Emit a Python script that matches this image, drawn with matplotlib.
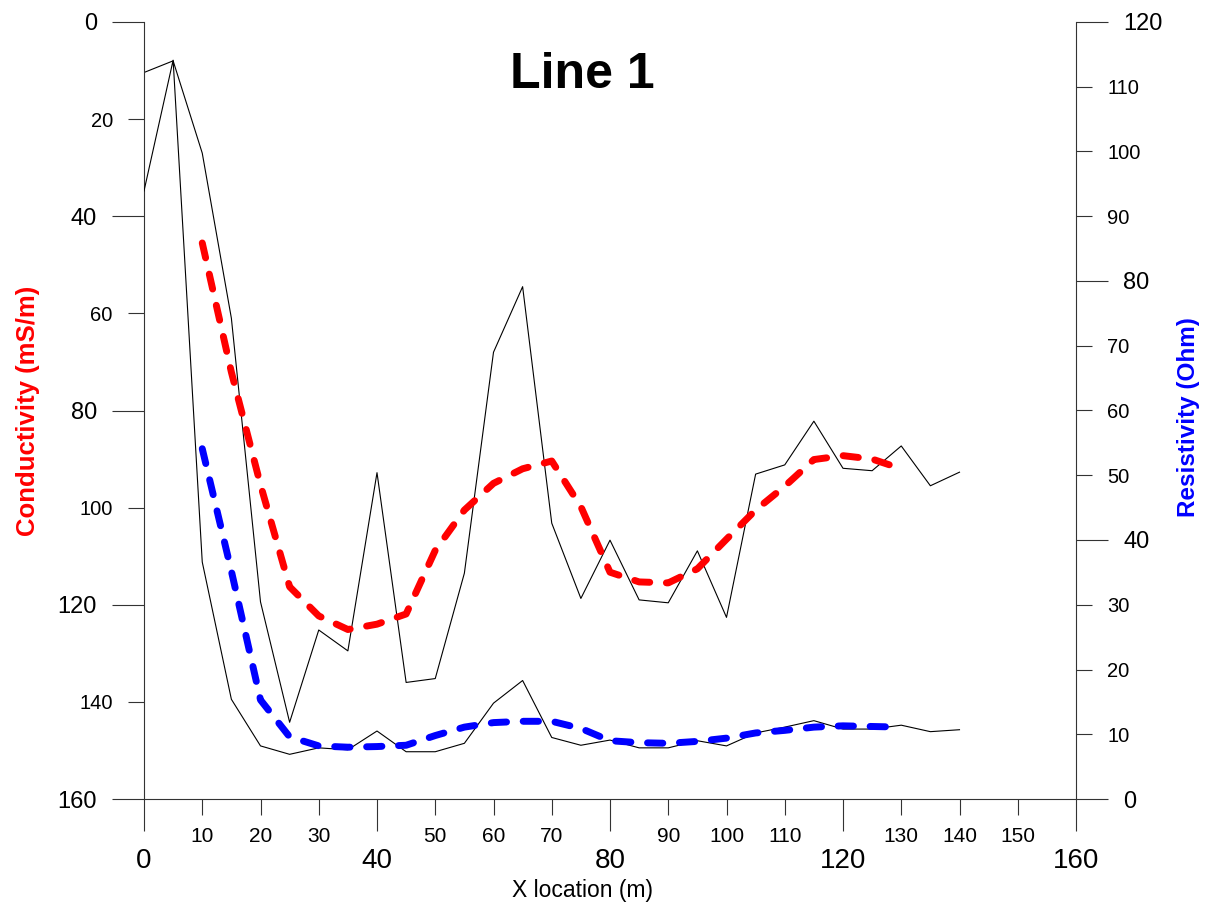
import matplotlib
matplotlib.use("Agg")
import matplotlib.pyplot as plt
from matplotlib.ticker import MultipleLocator, FormatStrFormatter

# raw readings every 5 m
x_raw = [0, 5, 10, 15, 20, 25, 30, 35, 40, 45, 50, 55, 60, 65, 70,
         75, 80, 85, 90, 95, 100, 105, 110, 115, 120, 125, 130, 135, 140]
cond_raw = [10.4, 8.0, 27.0, 61.0, 119.4, 144.2, 125.2, 129.5, 92.8, 136.0,
            135.2, 113.5, 68.0, 54.5, 103.2, 118.7, 106.7, 119.0, 119.6, 108.9,
            122.6, 93.1, 91.2, 82.2, 91.9, 92.4, 87.3, 95.5, 92.7]
res_raw = [93.9, 114.1, 36.6, 15.4, 8.2, 6.9, 7.9, 7.6, 10.5, 7.3,
           7.3, 8.6, 14.8, 18.3, 9.5, 8.3, 9.1, 7.9, 7.9, 9.0,
           8.2, 10.2, 11.1, 12.1, 10.8, 10.8, 11.4, 10.4, 10.7]

# smoothed curves
x_smooth = [10, 15, 20, 25, 30, 35, 40, 45, 50, 55, 60, 65, 70,
            75, 80, 85, 90, 95, 100, 105, 110, 115, 120, 125, 130]
cond_smooth = [45.5, 72.1, 95.3, 116.3, 122.3, 125.1, 124.0, 121.9, 108.8, 100.5,
               95.0, 92.0, 90.4, 99.8, 113.3, 115.3, 115.5, 112.6, 106.5, 100.5,
               95.6, 90.1, 89.3, 90.0, 92.0]
res_smooth = [54.1, 35.2, 15.3, 9.6, 8.2, 8.0, 8.1, 8.3, 9.8, 11.1,
              11.8, 12.0, 12.0, 10.9, 9.0, 8.7, 8.6, 8.9, 9.4, 10.2,
              10.6, 11.1, 11.3, 11.2, 11.1]

plt.rcParams['font.family'] = ['Liberation Sans', 'DejaVu Sans']
axis_col = '#333333'

W, H = 1211, 906
fig = plt.figure(figsize=(W / 100, H / 100), dpi=100)
ax = fig.add_axes([144 / W, 1 - 799 / H, (1076 - 144) / W, (799 - 22) / H])
ax2 = ax.twinx()

ax.plot(x_raw, cond_raw, color='black', lw=0.8)
ax.plot(x_smooth, cond_smooth, color='red', lw=5, dashes=(2.2, 2.4),
        dash_capstyle='round', solid_joinstyle='round')
ax2.plot(x_raw, res_raw, color='black', lw=0.8)
ax2.plot(x_smooth, res_smooth, color='blue', lw=5, dashes=(2.2, 2.4),
         dash_capstyle='round', solid_joinstyle='round')

ax.set_xlim(0, 160)
ax.set_ylim(160, 0)
ax2.set_ylim(0, 120)

for s in ['top', 'right']:
    ax.spines[s].set_visible(False)
for s in ['top', 'left', 'bottom']:
    ax2.spines[s].set_visible(False)
for s in ['left', 'bottom']:
    ax.spines[s].set_color(axis_col)
ax2.spines['right'].set_color(axis_col)

ax.xaxis.set_major_locator(MultipleLocator(40))
ax.xaxis.set_minor_locator(MultipleLocator(10))
ax.xaxis.set_minor_formatter(FormatStrFormatter('%d'))
ax.yaxis.set_major_locator(MultipleLocator(40))
ax.yaxis.set_minor_locator(MultipleLocator(20))
ax.yaxis.set_minor_formatter(FormatStrFormatter('%d'))
ax2.yaxis.set_major_locator(MultipleLocator(40))
ax2.yaxis.set_minor_locator(MultipleLocator(10))
ax2.yaxis.set_minor_formatter(FormatStrFormatter('%d'))

ax.tick_params(axis='x', which='major', length=23, width=0.8, color=axis_col,
               pad=12, labelsize=20)
ax.tick_params(axis='x', which='minor', length=11.5, width=0.8, color=axis_col,
               pad=9, labelsize=15)
ax.tick_params(axis='y', which='major', length=23, width=0.8, color=axis_col,
               pad=11, labelsize=17)
ax.tick_params(axis='y', which='minor', length=11.5, width=0.8, color=axis_col,
               pad=11, labelsize=14.5)
ax2.tick_params(axis='y', which='major', length=23, width=0.8, color=axis_col,
                pad=11, labelsize=17)
ax2.tick_params(axis='y', which='minor', length=11.5, width=0.8, color=axis_col,
                pad=11, labelsize=14.5)

fig.text(582 / W, 1 - 75 / H, 'Line 1', fontsize=36, fontweight='bold',
         ha='center', va='center')
fig.text(582 / W, 1 - 890 / H, 'X location (m)', fontsize=16.5,
         ha='center', va='center')
fig.text(28 / W, 1 - 411 / H, 'Conductivity (mS/m)', fontsize=18.5,
         fontweight='bold', color='red', rotation=90,
         ha='center', va='center')
fig.text(1188 / W, 1 - 417 / H, 'Resistivity (Ohm)', fontsize=17.5,
         fontweight='bold', color='blue', rotation=90,
         ha='center', va='center')

fig.savefig('out.png', dpi=100)
